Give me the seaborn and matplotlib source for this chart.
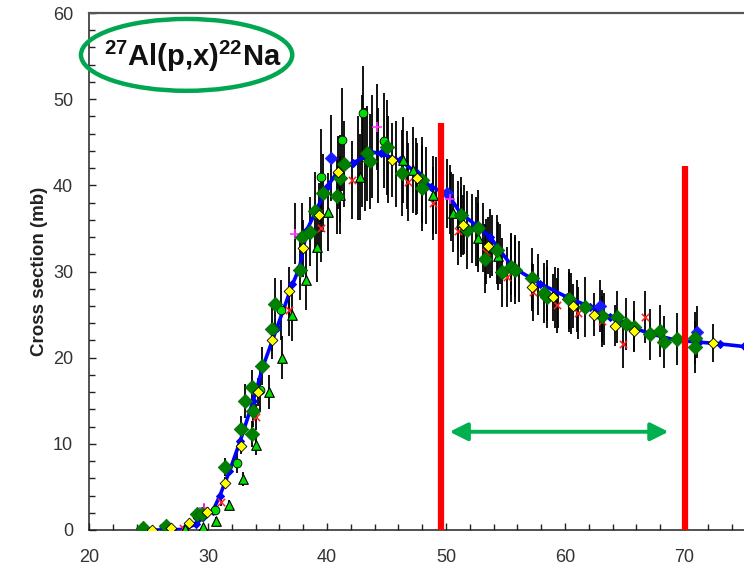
import matplotlib
matplotlib.use("Agg")
import matplotlib.pyplot as plt
import seaborn as sns
import numpy as np
from matplotlib.patches import Ellipse
from matplotlib.ticker import MultipleLocator

# ---------------- data ----------------
# evaluated / fitted curve (blue)
ev_x = [24.5, 27.0, 28.0, 29.0, 29.6, 30.4, 31.0, 31.8, 32.7, 33.8, 34.6, 35.8, 37.1, 37.7,
        38.3, 39.0, 40.0, 40.8, 42.2, 43.4, 43.6, 44.5, 46.1, 47.6, 48.7, 50.1, 51.2, 52.5,
        53.7, 55.6, 57.9, 60.2, 62.1, 63.8, 65.5, 67.1, 69.4, 71.3, 73.0, 75.0]
ev_y = [0.0, 0.0, 0.1, 0.7, 1.5, 2.2, 4.0, 6.8, 10.3, 15.0, 18.9, 23.5, 28.5, 30.5,
        34.8, 36.8, 39.8, 41.4, 42.6, 43.5, 43.9, 43.7, 42.9, 41.4, 39.8, 39.1, 36.8, 35.4,
        34.0, 30.5, 28.6, 27.0, 25.9, 24.7, 23.6, 22.8, 22.0, 21.8, 21.6, 21.3]

# dark green diamonds
dg_x = [24.5, 26.5, 29.1, 29.5, 31.4, 32.8, 33.1, 33.7, 33.8, 33.7, 34.5, 35.4, 35.6, 37.7,
        37.9, 38.6, 39.0, 39.7, 40.8, 41.1, 41.4, 43.4, 43.6, 45.0, 46.3, 48.0, 48.0, 51.3,
        51.8, 52.7, 53.3, 54.3, 54.7, 55.5, 55.8, 57.2, 58.2, 58.5, 60.3, 61.7, 63.1, 64.4,
        65.1, 65.8, 67.1, 68.0, 68.3, 69.4, 70.9, 70.9]
dg_y = [0.2, 0.5, 1.8, 1.8, 7.3, 11.7, 15.0, 16.6, 13.8, 11.1, 19.0, 23.3, 26.2, 30.2,
        34.0, 34.6, 37.0, 39.1, 38.8, 40.8, 42.5, 43.7, 42.8, 44.4, 41.4, 40.6, 39.7, 36.5,
        34.8, 35.0, 31.5, 32.5, 29.9, 30.5, 30.2, 29.2, 27.5, 27.0, 26.8, 25.9, 24.8, 24.7,
        23.9, 23.6, 22.7, 23.1, 21.8, 22.2, 22.3, 21.2]
dg_e = [0.3, 0.3, 0.5, 0.5, 1.0, 1.5, 2.0, 2.0, 1.8, 1.5, 2.2, 2.5, 3.0, 3.5,
        4.0, 4.0, 4.5, 4.5, 4.5, 5.0, 5.0, 5.5, 5.5, 5.5, 5.0, 5.0, 5.0, 4.5,
        4.5, 4.5, 4.0, 4.0, 4.0, 4.0, 4.0, 3.5, 3.5, 3.5, 3.5, 3.5, 3.0, 3.0,
        3.0, 3.0, 3.0, 3.0, 3.0, 3.0, 3.0, 3.0]

# light green circles
lg_x = [26.5, 29.1, 30.6, 32.4, 34.4, 36.1, 39.5, 41.3, 43.0, 44.8]
lg_y = [0.4, 1.6, 2.3, 7.8, 16.2, 25.5, 41.0, 45.3, 48.4, 45.2]
lg_e = [0.3, 0.4, 0.6, 1.2, 2.5, 3.5, 5.5, 6.0, 5.5, 5.5]

# green triangles
tr_x = [28.1, 29.6, 30.7, 31.8, 32.9, 34.0, 35.1, 36.2, 37.1, 38.2, 39.2, 40.1, 41.1, 42.8,
        46.4, 47.2, 48.9, 50.6, 51.3, 52.7, 54.4]
tr_y = [0.1, 0.4, 1.1, 2.9, 5.9, 9.9, 16.0, 20.0, 24.9, 29.0, 32.8, 36.9, 38.9, 41.0,
        42.9, 41.8, 38.9, 36.8, 35.7, 33.9, 31.8]
tr_e = [0.2, 0.3, 0.4, 0.6, 0.8, 1.2, 2.0, 2.5, 3.0, 3.5, 4.0, 4.5, 4.5, 5.0,
        5.0, 5.0, 4.5, 4.5, 4.0, 4.0, 4.0]

# yellow diamonds
yd_x = [25.3, 26.9, 28.4, 29.9, 31.4, 32.8, 34.2, 35.4, 36.8, 38.0, 39.3, 40.9, 45.5, 47.6,
        51.4, 53.5, 57.2, 59.0, 60.7, 62.4, 64.2, 65.8, 72.4]
yd_y = [0.0, 0.2, 0.8, 2.1, 5.5, 9.8, 16.0, 22.0, 27.7, 32.7, 36.6, 41.5, 42.9, 40.8,
        35.4, 33.0, 28.2, 27.0, 26.0, 25.0, 23.7, 23.1, 21.7]
yd_e = [0.2, 0.2, 0.3, 0.4, 0.6, 1.0, 1.6, 2.2, 2.8, 3.3, 3.7, 4.2, 4.3, 4.1,
        3.5, 3.3, 2.8, 2.7, 2.6, 2.5, 2.4, 2.3, 2.2]

# red crosses
rx_x = [27.9, 31.1, 34.0, 36.8, 39.5, 42.1, 46.8, 48.9, 51.0, 53.4, 55.1, 57.3, 59.3, 61.1,
        63.1, 64.9, 66.7]
rx_y = [0.2, 3.3, 13.1, 25.5, 35.1, 40.6, 40.4, 37.9, 34.7, 32.3, 29.4, 27.6, 26.1, 25.2,
        24.2, 21.6, 24.7]
rx_e = [0.2, 0.5, 1.5, 3.0, 4.0, 4.5, 4.5, 4.2, 4.0, 3.8, 3.5, 3.3, 3.2, 3.0,
        3.0, 2.8, 3.0]

# magenta plus
mp_x = [29.7, 37.3, 44.2, 50.3]
mp_y = [2.6, 34.4, 46.8, 38.4]
mp_e = [0.4, 3.5, 5.0, 4.0]

# blue markers (separate points)
bl_x = [40.3, 50.1, 62.9, 71.1]
bl_y = [43.2, 39.1, 26.0, 23.0]
bl_e = [5.0, 4.0, 3.0, 3.0]

# points whose markers are hidden (error bars only)
bk_x = [42.6, 42.9, 43.2, 43.8, 44.3, 45.1, 45.8, 46.7, 47.5, 48.3, 49.2, 50.4, 51.0, 51.5,
        52.2, 52.5, 53.1, 53.7, 53.9, 54.5, 55.5, 55.8, 56.1, 57.7, 58.5, 59.2, 59.4,
        60.3, 60.5, 61.0, 63.3]
bk_y = [42.0, 44.0, 43.0, 44.5, 43.5, 43.0, 42.5, 41.8, 41.0, 40.0, 38.8, 37.5, 36.5, 36.0,
        35.0, 34.6, 34.0, 33.2, 33.0, 32.0, 30.8, 30.5, 30.0, 28.5, 27.8, 27.0, 26.9,
        26.5, 26.3, 26.0, 24.5]
bk_e = [6.0, 6.5, 6.0, 6.0, 5.5, 5.0, 5.0, 4.5, 4.5, 4.5, 4.5, 4.0, 4.0, 4.0,
        4.0, 4.0, 4.0, 4.0, 3.5, 3.5, 3.5, 3.5, 3.5, 3.5, 3.5, 3.5, 3.5,
        3.5, 3.5, 3.0, 3.0]

# energy window markers
cut_x = [49.6, 70.1]
cut_top = [47.2, 42.3]
arrow_x = [50.3, 68.7]
arrow_y = 11.4

reaction_label = r"$^{27}$Al(p,x)$^{22}$Na"
ylabel_text = "Cross section (mb)"
xticks = [20, 30, 40, 50, 60, 70]
yticks = [0, 10, 20, 30, 40, 50, 60]

# ---------------- style ----------------
sns.set_theme(style="ticks")
plt.rcParams['font.family'] = ['Liberation Sans', 'DejaVu Sans']
plt.rcParams['mathtext.default'] = 'regular'

fig = plt.figure(figsize=(7.44, 5.68), dpi=100)
ax = fig.add_axes([89 / 744, 1 - 530 / 568, 1 - 89 / 744, (530 - 13) / 568])

# error bars (under markers)
for xs, ys, es in [(dg_x, dg_y, dg_e), (lg_x, lg_y, lg_e), (tr_x, tr_y, tr_e),
                   (yd_x, yd_y, yd_e), (rx_x, rx_y, rx_e), (mp_x, mp_y, mp_e),
                   (bl_x, bl_y, bl_e), (bk_x, bk_y, bk_e)]:
    ax.errorbar(xs, ys, yerr=es, fmt='none', ecolor='black', elinewidth=1.3,
                capsize=0, zorder=2)

# blue evaluated curve
sns.lineplot(x=ev_x, y=ev_y, ax=ax, color='#0000ff', lw=2.6, marker='D',
             markersize=4, markeredgecolor='#0000ff', estimator=None, sort=False,
             zorder=3)

sns.scatterplot(x=bl_x, y=bl_y, ax=ax, marker='D', s=40, color='#1a1aff',
                edgecolor='#1a1aff', zorder=4)
sns.scatterplot(x=rx_x, y=rx_y, ax=ax, marker='x', s=28, color='#ff2020',
                linewidth=1.1, zorder=4)
sns.scatterplot(x=mp_x, y=mp_y, ax=ax, marker='+', s=50, color='#ff33ff',
                linewidth=1.2, zorder=4)
sns.scatterplot(x=tr_x, y=tr_y, ax=ax, marker='^', s=48, color='#00dd00',
                edgecolor='black', linewidth=0.8, zorder=5)
sns.scatterplot(x=lg_x, y=lg_y, ax=ax, marker='o', s=40, color='#00dd00',
                edgecolor='black', linewidth=0.6, zorder=5)
sns.scatterplot(x=dg_x, y=dg_y, ax=ax, marker='D', s=55, color='#008000',
                edgecolor='#006400', linewidth=0.5, zorder=5)
sns.scatterplot(x=yd_x, y=yd_y, ax=ax, marker='D', s=30, color='#ffff00',
                edgecolor='black', linewidth=0.6, zorder=6)

# red energy-window lines
ax.vlines(cut_x, [0, 0], cut_top, colors='#ff0000', lw=4.5, zorder=8)

# green double arrow
ax.annotate('', xy=(arrow_x[1], arrow_y), xytext=(arrow_x[0], arrow_y),
            arrowprops=dict(arrowstyle='<|-|>,head_length=0.6,head_width=0.3',
                            color='#00b050', lw=2.8, shrinkA=0, shrinkB=0,
                            mutation_scale=18), zorder=8)

# ellipse + reaction label
ell = Ellipse((0.149, 0.919), 0.3226, 0.139, transform=ax.transAxes,
              fill=False, edgecolor='#00a650', lw=3.2, clip_on=False, zorder=9)
ax.add_patch(ell)
ax.text(0.158, 0.917, reaction_label, transform=ax.transAxes, ha='center',
        va='center', fontsize=21, fontweight='bold', color='#111111', zorder=10)

# axes
ax.set_xlim(20, 75.04)
ax.set_ylim(0, 60)
ax.set_xticks(xticks)
ax.set_yticks(yticks)
ax.xaxis.set_minor_locator(MultipleLocator(2))
ax.yaxis.set_minor_locator(MultipleLocator(2))
ax.tick_params(which='both', direction='in', color='#222222', width=1.0)
ax.tick_params(which='major', length=5)
ax.tick_params(which='minor', length=4.5)
ax.tick_params(axis='x', which='major', pad=14, labelsize=13, labelcolor='#333333')
ax.tick_params(axis='y', which='major', pad=11.5, labelsize=13, labelcolor='#333333')
ax.spines['right'].set_visible(False)
ax.spines['top'].set_color('#555555')
ax.spines['top'].set_linewidth(1.6)
ax.spines['left'].set_color('#222222')
ax.spines['bottom'].set_color('#222222')
ax.spines['left'].set_linewidth(1.1)
ax.spines['bottom'].set_linewidth(1.1)
ax.set_xlabel('')
ax.set_ylabel(ylabel_text, fontsize=13.5, fontweight='bold', color='#222222')
ax.yaxis.set_label_coords(-0.063, 0.5)

fig.savefig('out.png', dpi=100)
